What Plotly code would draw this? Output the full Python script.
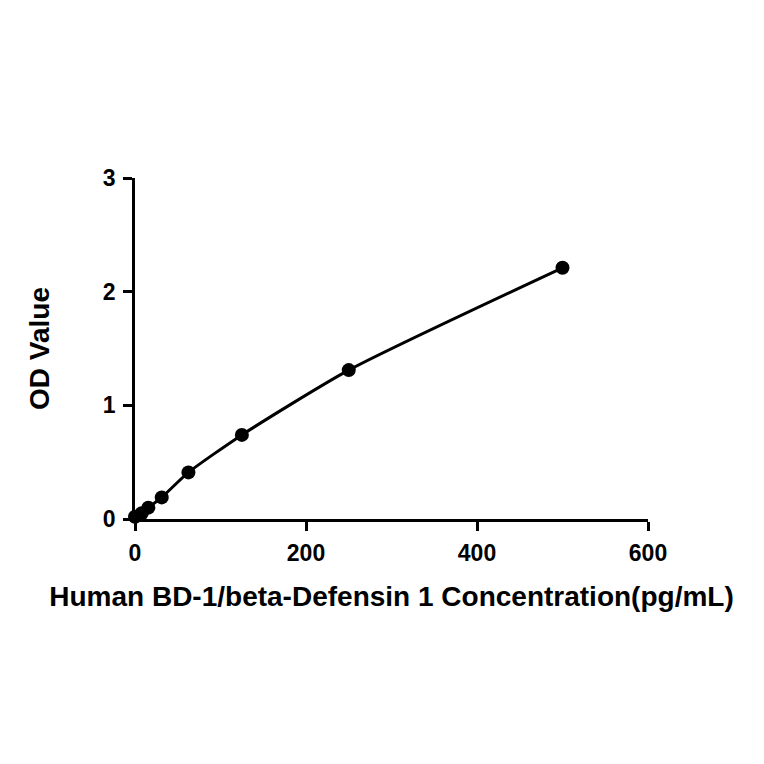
import plotly.graph_objects as go

concentration = [0, 7.8, 15.6, 31.25, 62.5, 125, 250, 500]
od_value = [0.02, 0.05, 0.10, 0.19, 0.41, 0.74, 1.31, 2.21]
x_ticks = [0, 200, 400, 600]
y_ticks = [0, 1, 2, 3]

fig = go.Figure()
fig.add_trace(go.Scatter(
    x=concentration, y=od_value, mode="lines+markers",
    line=dict(color="black", width=3, shape="spline", smoothing=0.6),
    marker=dict(color="black", size=14),
    showlegend=False, cliponaxis=False,
))

fam = "Liberation Sans, Arial, sans-serif"
fig.update_layout(
    width=764, height=764,
    paper_bgcolor="white", plot_bgcolor="white",
    margin=dict(l=127, r=124, t=170, b=253),
    font=dict(family=fam, color="black"),
    xaxis=dict(
        range=[0, 600], tickvals=x_ticks, ticks="outside", ticklen=9, tickwidth=2.5,
        tickcolor="black", showline=True, linecolor="black", linewidth=2.5,
        showgrid=False, zeroline=False, automargin=False, ticklabelstandoff=3,
        tickfont=dict(size=23, family=fam, color="black", weight="bold"),
        title=dict(text="<b>Human BD-1/beta-Defensin 1 Concentration(pg/mL)</b>",
                   font=dict(size=28, family=fam, color="black"), standoff=22),
    ),
    yaxis=dict(
        range=[0, 3], tickvals=y_ticks, ticks="outside", ticklen=9, tickwidth=2.5,
        tickcolor="black", showline=True, linecolor="black", linewidth=2.5,
        showgrid=False, zeroline=False, automargin=False, ticklabelstandoff=3,
        tickfont=dict(size=23, family=fam, color="black", weight="bold"),
        title=dict(text="<b>OD Value</b>",
                   font=dict(size=28, family=fam, color="black"), standoff=46),
    ),
)
fig.write_html("out.html")
